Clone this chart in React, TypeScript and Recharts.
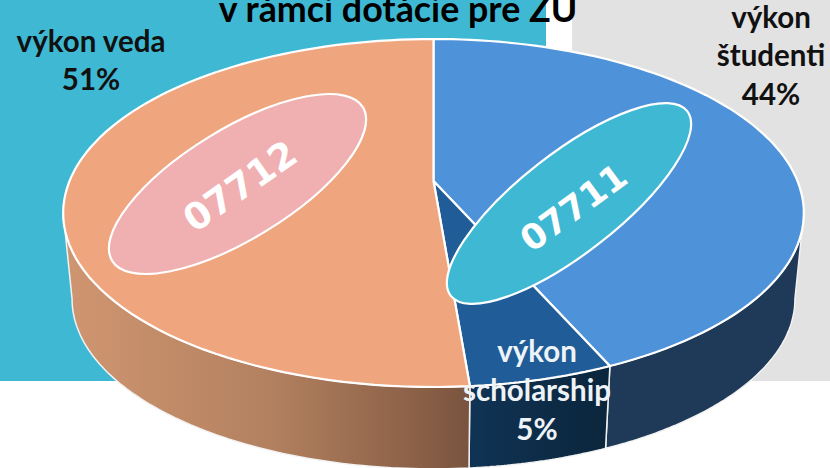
import React from 'react';
import { PieChart, Pie } from 'recharts';

const categories = ['výkon študenti', 'výkon scholarship', 'výkon veda'];
// slice sizes as measured on the picture, printed labels are in labelPercents
const sliceValues = [43.4, 5.3, 51.3];
const labelPercents = [44, 5, 51];
const topColors = ['#4E92D9', '#205C97', '#EFA67E'];
const wallFills = ['#1F3A58', 'url(#wallScholarship)', 'url(#wallVeda)'];
const codes = ['07711', '07712'];

const data = categories.map((name, i) => ({ name, value: sliceValues[i] }));

// perspective of the top face
const P_A = 134.8;
const P_C = -0.184;
// the bottom rim is the top rim, a bit smaller and moved down
const RIM_SCALE = 0.976;
const TOP_MID_Y = 213;
const BOTTOM_MID_Y = 299;
// angles where the rim turns from front to back
const FRONT_START = -10.6;
const FRONT_END = -169.4;

const project = (cx: number, cy: number, r: number, deg: number) => {
  const rad = (deg * Math.PI) / 180;
  const x = Math.cos(rad);
  const y = -Math.sin(rad);
  const d = 1 + P_C * y;
  return { x: cx + (r * x) / d, y: (P_A * y + cy) / d };
};

const arcPoints = (p: any, from: number, to: number) => {
  const steps = 90;
  const pts = [];
  for (let i = 0; i <= steps; i++) {
    pts.push(project(p.cx, p.cy, p.outerRadius, from + ((to - from) * i) / steps));
  }
  return pts;
};

const toPath = (pts: { x: number; y: number }[]) =>
  'M' + pts.map((q) => q.x.toFixed(1) + ',' + q.y.toFixed(1)).join('L') + 'Z';

const TopFace = (p: any) => {
  const pts = [{ x: p.cx, y: p.cy }, ...arcPoints(p, p.startAngle, p.endAngle)];
  return <path d={toPath(pts)} fill={topColors[p.index]} stroke="#fff" strokeWidth={2.2} strokeLinejoin="round" />;
};

const Wall = (p: any) => {
  const from = Math.min(p.startAngle, FRONT_START);
  const to = Math.max(p.endAngle, FRONT_END);
  const top = arcPoints(p, from, to);
  const bottom = top
    .map((q) => ({
      x: p.cx + (q.x - p.cx) * RIM_SCALE,
      y: BOTTOM_MID_Y + (q.y - TOP_MID_Y) * RIM_SCALE,
    }))
    .reverse();
  return <path d={toPath([...top, ...bottom])} fill={wallFills[p.index]} stroke="#F2F2F2" strokeWidth={1.5} strokeLinejoin="round" />;
};

const labelStyle: React.CSSProperties = {
  fontFamily: 'Lato, sans-serif',
  fontWeight: 700,
  fontSize: 29.5,
  textAnchor: 'middle',
};

const codeStyle: React.CSSProperties = {
  fontFamily: '"DejaVu Sans", sans-serif',
  fontWeight: 700,
  fontSize: 37,
  textAnchor: 'middle',
  fill: '#fff',
};

export default function App() {
  return (
    <div style={{ position: 'absolute', left: 0, top: 0, width: 830, height: 468, overflow: 'hidden', background: '#fff' }}>
      <div style={{ position: 'absolute', left: 0, top: 0, width: 546, height: 381, background: '#3FB9D3' }} />
      <div style={{ position: 'absolute', left: 572, top: 0, width: 258, height: 381, background: '#E2E2E2' }} />
      <div style={{ position: 'absolute', left: 0, top: 0 }}>
        <PieChart width={830} height={468} margin={{ top: 0, right: 0, bottom: 0, left: 0 }}>
          <defs>
            <linearGradient id="wallVeda" gradientUnits="userSpaceOnUse" x1="70" y1="0" x2="467" y2="0">
              <stop offset="0%" stopColor="#CF9570" />
              <stop offset="50%" stopColor="#B38160" />
              <stop offset="90%" stopColor="#885E45" />
              <stop offset="100%" stopColor="#7A543F" />
            </linearGradient>
            <linearGradient id="wallScholarship" gradientUnits="userSpaceOnUse" x1="467" y1="0" x2="606" y2="0">
              <stop offset="0%" stopColor="#103355" />
              <stop offset="100%" stopColor="#0B263C" />
            </linearGradient>
          </defs>
          <Pie
            data={data}
            dataKey="value"
            cx={433.5}
            cy={181}
            outerRadius={364}
            startAngle={90}
            endAngle={-270}
            label={false}
            labelLine={false}
            shape={Wall}
            isAnimationActive={false}
          />
          <Pie
            data={data}
            dataKey="value"
            cx={433.5}
            cy={181}
            outerRadius={364}
            startAngle={90}
            endAngle={-270}
            label={false}
            labelLine={false}
            shape={TopFace}
            isAnimationActive={false}
          />
        </PieChart>
      </div>
      <svg width={830} height={468} style={{ position: 'absolute', left: 0, top: 0 }}>
        <text x={398} y={22} style={{ ...labelStyle, fontSize: 35.8 }} fill="#000">v rámci dotácie pre ZU</text>

        <text x={91} y={52} style={labelStyle} fill="#111">výkon veda</text>
        <text x={91} y={90} style={labelStyle} fill="#111">{labelPercents[2]}%</text>

        <text x={771} y={28} style={labelStyle} fill="#111">výkon</text>
        <text x={771} y={66} style={labelStyle} fill="#111">študenti</text>
        <text x={771} y={105} style={labelStyle} fill="#111">{labelPercents[0]}%</text>

        <ellipse cx={237.5} cy={184} rx={147} ry={55} transform="rotate(-31.5 237.5 184)" fill="#F0AFB1" stroke="#fff" strokeWidth={2.2} />
        <text x={240} y={199} transform="rotate(-35 240 186)" style={codeStyle}>{codes[1]}</text>

        <ellipse cx={569} cy={203.5} rx={150} ry={50} transform="rotate(-38 569 203.5)" fill="#3FB9D3" stroke="#fff" strokeWidth={2.2} />
        <text x={573} y={220} transform="rotate(-36 573 207)" style={{ ...codeStyle, fontSize: 35 }}>{codes[0]}</text>

        <text x={537} y={362} style={labelStyle} fill="#EEF3F8">výkon</text>
        <text x={537} y={401} style={labelStyle} fill="#EEF3F8">scholarship</text>
        <text x={537} y={440} style={labelStyle} fill="#EEF3F8">{labelPercents[1]}%</text>
      </svg>
    </div>
  );
}
